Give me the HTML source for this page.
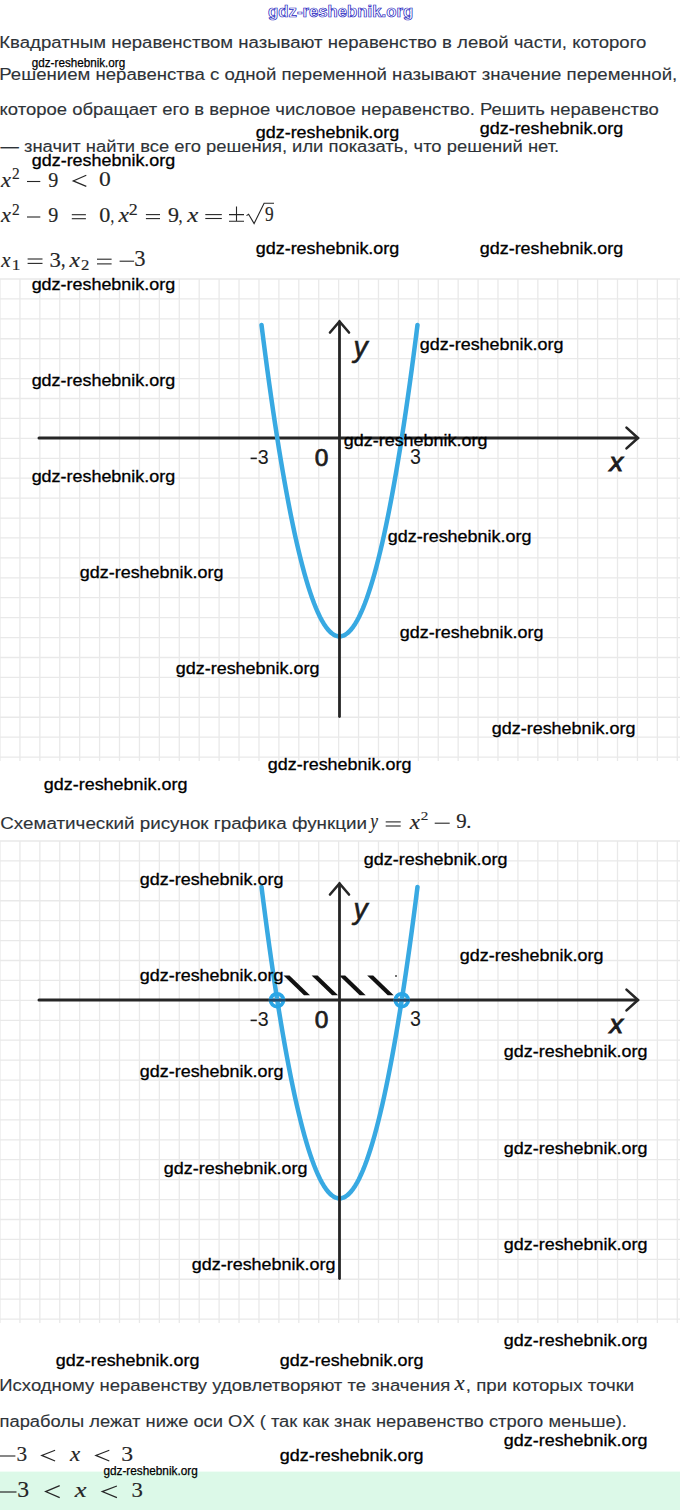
<!DOCTYPE html><html><head><meta charset="utf-8"><style>html,body{margin:0;padding:0;background:#fff;width:680px;height:1510px;overflow:hidden}svg{display:block}</style></head><body><svg width="680" height="1510" viewBox="0 0 680 1510"><rect x="0" y="1471.6" width="680" height="40" fill="#dcf9e8"/><g stroke="#e9e9e9" stroke-width="1.3"><line x1="0.00" y1="279" x2="0.00" y2="761"/><line x1="19.92" y1="279" x2="19.92" y2="761"/><line x1="39.84" y1="279" x2="39.84" y2="761"/><line x1="59.76" y1="279" x2="59.76" y2="761"/><line x1="79.68" y1="279" x2="79.68" y2="761"/><line x1="99.60" y1="279" x2="99.60" y2="761"/><line x1="119.52" y1="279" x2="119.52" y2="761"/><line x1="139.44" y1="279" x2="139.44" y2="761"/><line x1="159.36" y1="279" x2="159.36" y2="761"/><line x1="179.28" y1="279" x2="179.28" y2="761"/><line x1="199.20" y1="279" x2="199.20" y2="761"/><line x1="219.12" y1="279" x2="219.12" y2="761"/><line x1="239.04" y1="279" x2="239.04" y2="761"/><line x1="258.96" y1="279" x2="258.96" y2="761"/><line x1="278.88" y1="279" x2="278.88" y2="761"/><line x1="298.80" y1="279" x2="298.80" y2="761"/><line x1="318.72" y1="279" x2="318.72" y2="761"/><line x1="338.64" y1="279" x2="338.64" y2="761"/><line x1="358.56" y1="279" x2="358.56" y2="761"/><line x1="378.48" y1="279" x2="378.48" y2="761"/><line x1="398.40" y1="279" x2="398.40" y2="761"/><line x1="418.32" y1="279" x2="418.32" y2="761"/><line x1="438.24" y1="279" x2="438.24" y2="761"/><line x1="458.16" y1="279" x2="458.16" y2="761"/><line x1="478.08" y1="279" x2="478.08" y2="761"/><line x1="498.00" y1="279" x2="498.00" y2="761"/><line x1="517.92" y1="279" x2="517.92" y2="761"/><line x1="537.84" y1="279" x2="537.84" y2="761"/><line x1="557.76" y1="279" x2="557.76" y2="761"/><line x1="577.68" y1="279" x2="577.68" y2="761"/><line x1="597.60" y1="279" x2="597.60" y2="761"/><line x1="617.52" y1="279" x2="617.52" y2="761"/><line x1="637.44" y1="279" x2="637.44" y2="761"/><line x1="657.36" y1="279" x2="657.36" y2="761"/><line x1="677.28" y1="279" x2="677.28" y2="761"/><line x1="0" y1="279.00" x2="680" y2="279.00"/><line x1="0" y1="298.92" x2="680" y2="298.92"/><line x1="0" y1="318.84" x2="680" y2="318.84"/><line x1="0" y1="338.76" x2="680" y2="338.76"/><line x1="0" y1="358.68" x2="680" y2="358.68"/><line x1="0" y1="378.60" x2="680" y2="378.60"/><line x1="0" y1="398.52" x2="680" y2="398.52"/><line x1="0" y1="418.44" x2="680" y2="418.44"/><line x1="0" y1="438.36" x2="680" y2="438.36"/><line x1="0" y1="458.28" x2="680" y2="458.28"/><line x1="0" y1="478.20" x2="680" y2="478.20"/><line x1="0" y1="498.12" x2="680" y2="498.12"/><line x1="0" y1="518.04" x2="680" y2="518.04"/><line x1="0" y1="537.96" x2="680" y2="537.96"/><line x1="0" y1="557.88" x2="680" y2="557.88"/><line x1="0" y1="577.80" x2="680" y2="577.80"/><line x1="0" y1="597.72" x2="680" y2="597.72"/><line x1="0" y1="617.64" x2="680" y2="617.64"/><line x1="0" y1="637.56" x2="680" y2="637.56"/><line x1="0" y1="657.48" x2="680" y2="657.48"/><line x1="0" y1="677.40" x2="680" y2="677.40"/><line x1="0" y1="697.32" x2="680" y2="697.32"/><line x1="0" y1="717.24" x2="680" y2="717.24"/><line x1="0" y1="737.16" x2="680" y2="737.16"/><line x1="0" y1="757.08" x2="680" y2="757.08"/></g><g stroke="#262626" stroke-width="3" stroke-linecap="round" fill="none"><line x1="39" y1="438" x2="637.5" y2="438"/><polyline stroke-width="2.6" points="626.5,427.6 638,438 626.5,448.4"/></g><polyline points="261.50,324.90 263.45,340.28 265.40,355.27 267.35,369.87 269.30,384.08 271.25,397.91 273.20,411.34 275.15,424.38 277.10,437.04 279.05,449.30 281.00,461.18 282.95,472.67 284.90,483.76 286.85,494.47 288.80,504.79 290.75,514.72 292.70,524.26 294.65,533.41 296.60,542.17 298.55,550.54 300.50,558.52 302.45,566.12 304.40,573.32 306.35,580.14 308.30,586.56 310.25,592.60 312.20,598.24 314.15,603.50 316.10,608.36 318.05,612.84 320.00,616.93 321.95,620.63 323.90,623.94 325.85,626.86 327.80,629.39 329.75,631.53 331.70,633.28 333.65,634.65 335.60,635.62 337.55,636.21 339.50,636.40 341.45,636.21 343.40,635.62 345.35,634.65 347.30,633.28 349.25,631.53 351.20,629.39 353.15,626.86 355.10,623.94 357.05,620.63 359.00,616.93 360.95,612.84 362.90,608.36 364.85,603.50 366.80,598.24 368.75,592.60 370.70,586.56 372.65,580.14 374.60,573.32 376.55,566.12 378.50,558.52 380.45,550.54 382.40,542.17 384.35,533.41 386.30,524.26 388.25,514.72 390.20,504.79 392.15,494.47 394.10,483.76 396.05,472.67 398.00,461.18 399.95,449.30 401.90,437.04 403.85,424.38 405.80,411.34 407.75,397.91 409.70,384.08 411.65,369.87 413.60,355.27 415.55,340.28 417.50,324.90" fill="none" stroke="#38a9e2" stroke-width="4.5" stroke-linecap="round" stroke-linejoin="round"/><g stroke="#262626" stroke-width="2.8" stroke-linecap="round" fill="none"><line x1="339.5" y1="322" x2="339.5" y2="716.5"/><polyline stroke-width="2.6" points="330,332.5 339.5,321.5 349,332.5"/></g><text transform="matrix(0.97452 0 0 1.00008 353.405 356.965)" font-size="29.08" font-family="Liberation Sans" font-style="italic" fill="#1c1c1c" stroke="#1c1c1c" stroke-width="0.6">y</text><text transform="matrix(1.05768 0 0 1.00008 609.590 470.600)" font-size="25.74" font-family="Liberation Sans" font-style="italic" fill="#1c1c1c" stroke="#1c1c1c" stroke-width="0.9">x</text><rect x="250.6" y="457.6" width="6.2" height="1.6" fill="#1c1c1c"/><text transform="matrix(0.94486 0 0 1.00012 257.653 463.797)" font-size="20.76" font-family="Liberation Sans" fill="#1c1c1c">3</text><text transform="matrix(1.05680 0 0 1.00015 314.844 465.974)" font-size="23.16" font-family="Liberation Sans" fill="#1c1c1c" stroke="#1c1c1c" stroke-width="0.7">0</text><text transform="matrix(0.92568 0 0 0.99982 410.053 463.793)" font-size="21.19" font-family="Liberation Sans" fill="#1c1c1c">3</text><g stroke="#e9e9e9" stroke-width="1.3"><line x1="0.00" y1="841" x2="0.00" y2="1323"/><line x1="19.92" y1="841" x2="19.92" y2="1323"/><line x1="39.84" y1="841" x2="39.84" y2="1323"/><line x1="59.76" y1="841" x2="59.76" y2="1323"/><line x1="79.68" y1="841" x2="79.68" y2="1323"/><line x1="99.60" y1="841" x2="99.60" y2="1323"/><line x1="119.52" y1="841" x2="119.52" y2="1323"/><line x1="139.44" y1="841" x2="139.44" y2="1323"/><line x1="159.36" y1="841" x2="159.36" y2="1323"/><line x1="179.28" y1="841" x2="179.28" y2="1323"/><line x1="199.20" y1="841" x2="199.20" y2="1323"/><line x1="219.12" y1="841" x2="219.12" y2="1323"/><line x1="239.04" y1="841" x2="239.04" y2="1323"/><line x1="258.96" y1="841" x2="258.96" y2="1323"/><line x1="278.88" y1="841" x2="278.88" y2="1323"/><line x1="298.80" y1="841" x2="298.80" y2="1323"/><line x1="318.72" y1="841" x2="318.72" y2="1323"/><line x1="338.64" y1="841" x2="338.64" y2="1323"/><line x1="358.56" y1="841" x2="358.56" y2="1323"/><line x1="378.48" y1="841" x2="378.48" y2="1323"/><line x1="398.40" y1="841" x2="398.40" y2="1323"/><line x1="418.32" y1="841" x2="418.32" y2="1323"/><line x1="438.24" y1="841" x2="438.24" y2="1323"/><line x1="458.16" y1="841" x2="458.16" y2="1323"/><line x1="478.08" y1="841" x2="478.08" y2="1323"/><line x1="498.00" y1="841" x2="498.00" y2="1323"/><line x1="517.92" y1="841" x2="517.92" y2="1323"/><line x1="537.84" y1="841" x2="537.84" y2="1323"/><line x1="557.76" y1="841" x2="557.76" y2="1323"/><line x1="577.68" y1="841" x2="577.68" y2="1323"/><line x1="597.60" y1="841" x2="597.60" y2="1323"/><line x1="617.52" y1="841" x2="617.52" y2="1323"/><line x1="637.44" y1="841" x2="637.44" y2="1323"/><line x1="657.36" y1="841" x2="657.36" y2="1323"/><line x1="677.28" y1="841" x2="677.28" y2="1323"/><line x1="0" y1="841.00" x2="680" y2="841.00"/><line x1="0" y1="860.92" x2="680" y2="860.92"/><line x1="0" y1="880.84" x2="680" y2="880.84"/><line x1="0" y1="900.76" x2="680" y2="900.76"/><line x1="0" y1="920.68" x2="680" y2="920.68"/><line x1="0" y1="940.60" x2="680" y2="940.60"/><line x1="0" y1="960.52" x2="680" y2="960.52"/><line x1="0" y1="980.44" x2="680" y2="980.44"/><line x1="0" y1="1000.36" x2="680" y2="1000.36"/><line x1="0" y1="1020.28" x2="680" y2="1020.28"/><line x1="0" y1="1040.20" x2="680" y2="1040.20"/><line x1="0" y1="1060.12" x2="680" y2="1060.12"/><line x1="0" y1="1080.04" x2="680" y2="1080.04"/><line x1="0" y1="1099.96" x2="680" y2="1099.96"/><line x1="0" y1="1119.88" x2="680" y2="1119.88"/><line x1="0" y1="1139.80" x2="680" y2="1139.80"/><line x1="0" y1="1159.72" x2="680" y2="1159.72"/><line x1="0" y1="1179.64" x2="680" y2="1179.64"/><line x1="0" y1="1199.56" x2="680" y2="1199.56"/><line x1="0" y1="1219.48" x2="680" y2="1219.48"/><line x1="0" y1="1239.40" x2="680" y2="1239.40"/><line x1="0" y1="1259.32" x2="680" y2="1259.32"/><line x1="0" y1="1279.24" x2="680" y2="1279.24"/><line x1="0" y1="1299.16" x2="680" y2="1299.16"/><line x1="0" y1="1319.08" x2="680" y2="1319.08"/></g><g stroke="#262626" stroke-width="3" stroke-linecap="round" fill="none"><line x1="39" y1="1000" x2="637.5" y2="1000"/><polyline stroke-width="2.6" points="626.5,989.6 638,1000 626.5,1010.4"/></g><polygon fill="#111" points="283.5,975.6 289.5,975.6 310.0,995.2 304.0,995.2"/><polygon fill="#111" points="311.6,975.6 317.6,975.6 338.1,995.2 332.1,995.2"/><polygon fill="#111" points="339.2,975.6 345.2,975.6 365.7,995.2 359.7,995.2"/><polygon fill="#111" points="367.2,975.6 373.2,975.6 393.7,995.2 387.7,995.2"/><circle cx="396" cy="976" r="1" fill="#444"/><polyline points="261.50,886.90 263.45,902.28 265.40,917.27 267.35,931.87 269.30,946.08 271.25,959.91 273.20,973.34 275.15,986.38 277.10,999.04 279.05,1011.30 281.00,1023.18 282.95,1034.67 284.90,1045.76 286.85,1056.47 288.80,1066.79 290.75,1076.72 292.70,1086.26 294.65,1095.41 296.60,1104.17 298.55,1112.54 300.50,1120.52 302.45,1128.12 304.40,1135.32 306.35,1142.14 308.30,1148.56 310.25,1154.60 312.20,1160.24 314.15,1165.50 316.10,1170.36 318.05,1174.84 320.00,1178.93 321.95,1182.63 323.90,1185.94 325.85,1188.86 327.80,1191.39 329.75,1193.53 331.70,1195.28 333.65,1196.65 335.60,1197.62 337.55,1198.21 339.50,1198.40 341.45,1198.21 343.40,1197.62 345.35,1196.65 347.30,1195.28 349.25,1193.53 351.20,1191.39 353.15,1188.86 355.10,1185.94 357.05,1182.63 359.00,1178.93 360.95,1174.84 362.90,1170.36 364.85,1165.50 366.80,1160.24 368.75,1154.60 370.70,1148.56 372.65,1142.14 374.60,1135.32 376.55,1128.12 378.50,1120.52 380.45,1112.54 382.40,1104.17 384.35,1095.41 386.30,1086.26 388.25,1076.72 390.20,1066.79 392.15,1056.47 394.10,1045.76 396.05,1034.67 398.00,1023.18 399.95,1011.30 401.90,999.04 403.85,986.38 405.80,973.34 407.75,959.91 409.70,946.08 411.65,931.87 413.60,917.27 415.55,902.28 417.50,886.90" fill="none" stroke="#38a9e2" stroke-width="4.5" stroke-linecap="round" stroke-linejoin="round"/><g stroke="#262626" stroke-width="2.8" stroke-linecap="round" fill="none"><line x1="339.5" y1="884" x2="339.5" y2="1278.5"/><polyline stroke-width="2.6" points="330,894.5 339.5,883.5 349,894.5"/></g><circle cx="277" cy="1000.2" r="6.4" fill="none" stroke="#2aa6e6" stroke-width="3.8"/><line x1="269" y1="1000.2" x2="285" y2="1000.2" stroke="#1d4a6e" stroke-width="2.6"/><circle cx="401.8" cy="1000.2" r="6.4" fill="none" stroke="#2aa6e6" stroke-width="3.8"/><line x1="393.8" y1="1000.2" x2="409.8" y2="1000.2" stroke="#1d4a6e" stroke-width="2.6"/><text transform="matrix(0.97452 0 0 1.00008 353.405 918.965)" font-size="29.08" font-family="Liberation Sans" font-style="italic" fill="#1c1c1c" stroke="#1c1c1c" stroke-width="0.6">y</text><text transform="matrix(1.05768 0 0 1.00008 609.590 1032.600)" font-size="25.74" font-family="Liberation Sans" font-style="italic" fill="#1c1c1c" stroke="#1c1c1c" stroke-width="0.9">x</text><rect x="250.6" y="1019.6" width="6.2" height="1.6" fill="#1c1c1c"/><text transform="matrix(0.94486 0 0 1.00012 257.653 1025.797)" font-size="20.76" font-family="Liberation Sans" fill="#1c1c1c">3</text><text transform="matrix(1.05680 0 0 1.00015 314.844 1027.974)" font-size="23.16" font-family="Liberation Sans" fill="#1c1c1c" stroke="#1c1c1c" stroke-width="0.7">0</text><text transform="matrix(0.92568 0 0 0.99982 410.053 1025.793)" font-size="21.19" font-family="Liberation Sans" fill="#1c1c1c">3</text><g fill="#2e3338" stroke="#2e3338" stroke-width="0.12"><text x="-0.72" y="48.4" font-size="16" textLength="647.09" lengthAdjust="spacingAndGlyphs" font-family="Liberation Sans">Квадратным неравенством называют неравенство в левой части, которого</text><text x="-0.72" y="79.6" font-size="16" textLength="677.98" lengthAdjust="spacingAndGlyphs" font-family="Liberation Sans">Решением неравенства с одной переменной называют значение переменной,</text><text x="-0.44" y="115.3" font-size="16" textLength="659.21" lengthAdjust="spacingAndGlyphs" font-family="Liberation Sans">которое обращает его в верное числовое неравенство. Решить неравенство</text><text x="0.50" y="151.8" font-size="16" textLength="558.67" lengthAdjust="spacingAndGlyphs" font-family="Liberation Sans">— значит найти все его решения, или показать, что решений нет.</text><text x="0.25" y="828.7" font-size="16" textLength="366.76" lengthAdjust="spacingAndGlyphs" font-family="Liberation Sans">Схематический рисунок графика функции</text><text x="-0.70" y="1390.9" font-size="16" textLength="450.98" lengthAdjust="spacingAndGlyphs" font-family="Liberation Sans">Исходному неравенству удовлетворяют те значения</text><text x="465.83" y="1390.9" font-size="16" textLength="168.45" lengthAdjust="spacingAndGlyphs" font-family="Liberation Sans">, при которых точки</text><text x="-0.47" y="1426.8" font-size="16" textLength="627.44" lengthAdjust="spacingAndGlyphs" font-family="Liberation Sans">параболы лежат ниже оси OX ( так как знак неравенство строго меньше).</text></g><g fill="#262626" stroke="#262626" stroke-width="0.15"><text transform="matrix(1.04348 0 0 0.99997 0.975 186.700)" font-size="21.57" font-family="Liberation Serif" font-style="italic">x</text><text transform="matrix(0.98447 0 0 0.99983 12.120 178.800)" font-size="15.71" font-family="Liberation Serif">2</text><line x1="27.0" y1="181.5" x2="40.3" y2="181.5" stroke="#262626" stroke-width="1.1"/><text transform="matrix(0.95371 0 0 1.00023 48.151 186.594)" font-size="21.13" font-family="Liberation Serif">9</text><polyline points="86.3,175.3 73.2,180.9 86.3,186.4" fill="none" stroke="#262626" stroke-width="1.15" stroke-linejoin="miter"/><text transform="matrix(1.08331 0 0 1.00019 99.001 186.287)" font-size="21.78" font-family="Liberation Serif">0</text><text transform="matrix(1.09902 0 0 1.00000 0.975 222.400)" font-size="20.48" font-family="Liberation Serif" font-style="italic">x</text><text transform="matrix(0.97516 0 0 0.99990 12.120 214.600)" font-size="15.86" font-family="Liberation Serif">2</text><line x1="27.0" y1="217.0" x2="40.3" y2="217.0" stroke="#262626" stroke-width="1.1"/><text transform="matrix(0.95371 0 0 1.00023 48.151 221.994)" font-size="21.13" font-family="Liberation Serif">9</text><line x1="71.8" y1="214.7" x2="85.9" y2="214.7" stroke="#262626" stroke-width="1.1"/><line x1="71.8" y1="218.7" x2="85.9" y2="218.7" stroke="#262626" stroke-width="1.1"/><text transform="matrix(1.10068 0 0 1.00020 99.155 222.203)" font-size="20.15" font-family="Liberation Serif">0</text><text transform="matrix(0.68998 0 0 1.00021 110.437 221.706)" font-size="21.41" font-family="Liberation Serif">,</text><text transform="matrix(1.15343 0 0 1.00000 118.488 222.400)" font-size="20.48" font-family="Liberation Serif" font-style="italic">x</text><text transform="matrix(1.12183 0 0 0.99996 128.811 214.700)" font-size="16.01" font-family="Liberation Serif">2</text><line x1="145.9" y1="214.6" x2="160.0" y2="214.6" stroke="#262626" stroke-width="1.1"/><line x1="145.9" y1="218.6" x2="160.0" y2="218.6" stroke="#262626" stroke-width="1.1"/><text transform="matrix(1.04938 0 0 0.99981 168.090 221.895)" font-size="20.99" font-family="Liberation Serif">9</text><text transform="matrix(0.75270 0 0 1.00021 178.586 221.706)" font-size="21.41" font-family="Liberation Serif">,</text><text transform="matrix(1.23195 0 0 1.00011 187.305 222.200)" font-size="20.26" font-family="Liberation Serif" font-style="italic">x</text><line x1="205.3" y1="214.6" x2="221.8" y2="214.6" stroke="#262626" stroke-width="1.1"/><line x1="205.3" y1="218.5" x2="221.8" y2="218.5" stroke="#262626" stroke-width="1.1"/><path d="M229,214.6 H244 M236.5,206.6 V221.3 M229,221.3 H244" stroke="#262626" stroke-width="1.1" fill="none"/><path d="M246.5,215.6 L248.6,214.2 L254.1,223.6 L264.1,203.2 L274,203.2" stroke="#262626" stroke-width="1.1" fill="none"/><text transform="matrix(0.86312 0 0 1.00015 265.041 221.104)" font-size="20.09" font-family="Liberation Serif">9</text><text transform="matrix(1.03396 0 0 1.00011 1.356 266.700)" font-size="20.26" font-family="Liberation Serif" font-style="italic">x</text><text transform="matrix(1.15514 0 0 0.99976 11.677 269.500)" font-size="15.0" font-family="Liberation Serif">1</text><line x1="27.6" y1="259.0" x2="42.5" y2="259.0" stroke="#262626" stroke-width="1.1"/><line x1="27.6" y1="263.4" x2="42.5" y2="263.4" stroke="#262626" stroke-width="1.1"/><text transform="matrix(1.06934 0 0 1.00017 49.611 267.092)" font-size="21.28" font-family="Liberation Serif">3</text><text transform="matrix(0.77611 0 0 1.00005 60.910 265.907)" font-size="23.36" font-family="Liberation Serif">,</text><text transform="matrix(1.17875 0 0 1.00021 69.588 266.500)" font-size="20.04" font-family="Liberation Serif" font-style="italic">x</text><text transform="matrix(1.20326 0 0 1.00036 81.066 269.800)" font-size="13.89" font-family="Liberation Serif">2</text><line x1="97.0" y1="259.2" x2="111.6" y2="259.2" stroke="#262626" stroke-width="1.1"/><line x1="97.0" y1="263.9" x2="111.6" y2="263.9" stroke="#262626" stroke-width="1.1"/><line x1="119.6" y1="261.2" x2="134.1" y2="261.2" stroke="#262626" stroke-width="1.1"/><text transform="matrix(0.99529 0 0 1.00014 134.323 266.279)" font-size="22.62" font-family="Liberation Serif">3</text><text transform="matrix(0.84611 0 0 0.99993 370.255 828.254)" font-size="20.6" font-family="Liberation Serif" font-style="italic">y</text><line x1="385.7" y1="821.9" x2="400.7" y2="821.9" stroke="#262626" stroke-width="1.1"/><line x1="385.7" y1="826.0" x2="400.7" y2="826.0" stroke="#262626" stroke-width="1.1"/><text transform="matrix(1.13295 0 0 1.00011 409.680 828.600)" font-size="20.26" font-family="Liberation Serif" font-style="italic">x</text><text transform="matrix(1.14496 0 0 1.00006 420.631 820.400)" font-size="13.29" font-family="Liberation Serif">2</text><line x1="434.7" y1="823.2" x2="449.7" y2="823.2" stroke="#262626" stroke-width="1.1"/><text transform="matrix(0.99356 0 0 0.99981 456.328 828.395)" font-size="20.99" font-family="Liberation Serif">9</text><text transform="matrix(1.04372 0 0 1.00023 466.161 828.324)" font-size="19.46" font-family="Liberation Serif">.</text><text transform="matrix(1.13295 0 0 1.00011 454.380 1390.300)" font-size="20.26" font-family="Liberation Serif" font-style="italic">x</text><line x1="0" y1="1456.0" x2="15.4" y2="1456.0" stroke="#262626" stroke-width="1.1"/><text transform="matrix(0.99408 0 0 1.00012 16.481 1461.391)" font-size="21.43" font-family="Liberation Serif">3</text><polyline points="55.1,1450.3 41.7,1455.4 55.1,1461.0" fill="none" stroke="#262626" stroke-width="1.15" stroke-linejoin="miter"/><text transform="matrix(1.10887 0 0 0.99990 69.880 1461.300)" font-size="20.7" font-family="Liberation Serif" font-style="italic">x</text><polyline points="109.3,1450.3 95.8,1455.4 109.3,1461.0" fill="none" stroke="#262626" stroke-width="1.15" stroke-linejoin="miter"/><text transform="matrix(1.10704 0 0 1.00012 121.365 1461.391)" font-size="21.43" font-family="Liberation Serif">3</text><line x1="0" y1="1492.0" x2="16.5" y2="1492.0" stroke="#262626" stroke-width="1.2"/><text transform="matrix(1.04880 0 0 1.00014 17.365 1497.379)" font-size="22.62" font-family="Liberation Serif">3</text><polyline points="59.7,1485.6 45.6,1491.6 59.7,1497.6" fill="none" stroke="#262626" stroke-width="1.2" stroke-linejoin="miter"/><text transform="matrix(1.29489 0 0 1.00000 74.724 1497.300)" font-size="20.48" font-family="Liberation Serif" font-style="italic">x</text><polyline points="116.9,1486.0 102.2,1491.6 116.9,1497.6" fill="none" stroke="#262626" stroke-width="1.2" stroke-linejoin="miter"/><text transform="matrix(1.06186 0 0 1.00012 131.411 1497.091)" font-size="21.43" font-family="Liberation Serif">3</text></g><g fill="#000" stroke="#000" stroke-width="0.3"><text x="255.75" y="137.7" font-size="16.6" textLength="143.51" lengthAdjust="spacingAndGlyphs" font-family="Liberation Sans">gdz-reshebnik.org</text><text x="479.75" y="133.8" font-size="16.6" textLength="143.51" lengthAdjust="spacingAndGlyphs" font-family="Liberation Sans">gdz-reshebnik.org</text><text x="31.75" y="165.6" font-size="16.6" textLength="143.51" lengthAdjust="spacingAndGlyphs" font-family="Liberation Sans">gdz-reshebnik.org</text><text x="255.75" y="253.8" font-size="16.6" textLength="143.51" lengthAdjust="spacingAndGlyphs" font-family="Liberation Sans">gdz-reshebnik.org</text><text x="479.75" y="253.8" font-size="16.6" textLength="143.51" lengthAdjust="spacingAndGlyphs" font-family="Liberation Sans">gdz-reshebnik.org</text><text x="31.65" y="289.5" font-size="16.6" textLength="143.51" lengthAdjust="spacingAndGlyphs" font-family="Liberation Sans">gdz-reshebnik.org</text><text x="419.85" y="349.5" font-size="16.6" textLength="143.51" lengthAdjust="spacingAndGlyphs" font-family="Liberation Sans">gdz-reshebnik.org</text><text x="31.65" y="385.5" font-size="16.6" textLength="143.51" lengthAdjust="spacingAndGlyphs" font-family="Liberation Sans">gdz-reshebnik.org</text><text x="343.85" y="445.6" font-size="16.6" textLength="143.51" lengthAdjust="spacingAndGlyphs" font-family="Liberation Sans">gdz-reshebnik.org</text><text x="31.65" y="481.5" font-size="16.6" textLength="143.51" lengthAdjust="spacingAndGlyphs" font-family="Liberation Sans">gdz-reshebnik.org</text><text x="387.85" y="541.5" font-size="16.6" textLength="143.51" lengthAdjust="spacingAndGlyphs" font-family="Liberation Sans">gdz-reshebnik.org</text><text x="79.85" y="577.5" font-size="16.6" textLength="143.51" lengthAdjust="spacingAndGlyphs" font-family="Liberation Sans">gdz-reshebnik.org</text><text x="399.85" y="637.5" font-size="16.6" textLength="143.51" lengthAdjust="spacingAndGlyphs" font-family="Liberation Sans">gdz-reshebnik.org</text><text x="175.85" y="673.5" font-size="16.6" textLength="143.51" lengthAdjust="spacingAndGlyphs" font-family="Liberation Sans">gdz-reshebnik.org</text><text x="491.85" y="733.5" font-size="16.6" textLength="143.51" lengthAdjust="spacingAndGlyphs" font-family="Liberation Sans">gdz-reshebnik.org</text><text x="267.85" y="769.6" font-size="16.6" textLength="143.51" lengthAdjust="spacingAndGlyphs" font-family="Liberation Sans">gdz-reshebnik.org</text><text x="43.85" y="789.6" font-size="16.6" textLength="143.51" lengthAdjust="spacingAndGlyphs" font-family="Liberation Sans">gdz-reshebnik.org</text><text x="363.85" y="865.2" font-size="16.6" textLength="143.51" lengthAdjust="spacingAndGlyphs" font-family="Liberation Sans">gdz-reshebnik.org</text><text x="139.85" y="885.2" font-size="16.6" textLength="143.51" lengthAdjust="spacingAndGlyphs" font-family="Liberation Sans">gdz-reshebnik.org</text><text x="459.85" y="961.3" font-size="16.6" textLength="143.51" lengthAdjust="spacingAndGlyphs" font-family="Liberation Sans">gdz-reshebnik.org</text><text x="139.85" y="981.3" font-size="16.6" textLength="143.51" lengthAdjust="spacingAndGlyphs" font-family="Liberation Sans">gdz-reshebnik.org</text><text x="503.85" y="1057.4" font-size="16.6" textLength="143.51" lengthAdjust="spacingAndGlyphs" font-family="Liberation Sans">gdz-reshebnik.org</text><text x="139.85" y="1077.4" font-size="16.6" textLength="143.51" lengthAdjust="spacingAndGlyphs" font-family="Liberation Sans">gdz-reshebnik.org</text><text x="503.85" y="1153.5" font-size="16.6" textLength="143.51" lengthAdjust="spacingAndGlyphs" font-family="Liberation Sans">gdz-reshebnik.org</text><text x="163.85" y="1173.5" font-size="16.6" textLength="143.51" lengthAdjust="spacingAndGlyphs" font-family="Liberation Sans">gdz-reshebnik.org</text><text x="503.85" y="1249.5" font-size="16.6" textLength="143.51" lengthAdjust="spacingAndGlyphs" font-family="Liberation Sans">gdz-reshebnik.org</text><text x="191.85" y="1269.6" font-size="16.6" textLength="143.51" lengthAdjust="spacingAndGlyphs" font-family="Liberation Sans">gdz-reshebnik.org</text><text x="503.85" y="1345.6" font-size="16.6" textLength="143.51" lengthAdjust="spacingAndGlyphs" font-family="Liberation Sans">gdz-reshebnik.org</text><text x="55.85" y="1365.6" font-size="16.6" textLength="143.51" lengthAdjust="spacingAndGlyphs" font-family="Liberation Sans">gdz-reshebnik.org</text><text x="279.85" y="1365.6" font-size="16.6" textLength="143.51" lengthAdjust="spacingAndGlyphs" font-family="Liberation Sans">gdz-reshebnik.org</text><text x="503.85" y="1445.6" font-size="16.6" textLength="143.51" lengthAdjust="spacingAndGlyphs" font-family="Liberation Sans">gdz-reshebnik.org</text><text x="279.85" y="1461.2" font-size="16.6" textLength="143.51" lengthAdjust="spacingAndGlyphs" font-family="Liberation Sans">gdz-reshebnik.org</text><text x="31.81" y="67" font-size="12.5" textLength="93.44" lengthAdjust="spacingAndGlyphs" font-family="Liberation Sans" stroke-width="0.25">gdz-reshebnik.org</text><text x="103.41" y="1474.7" font-size="12.5" textLength="94.35" lengthAdjust="spacingAndGlyphs" font-family="Liberation Sans" stroke-width="0.25">gdz-reshebnik.org</text></g><text x="268.11" y="16.5" font-size="16" textLength="145.01" lengthAdjust="spacingAndGlyphs" font-family="Liberation Sans" font-weight="bold" fill="#fff" stroke="#2424c0" stroke-width="0.7">gdz-reshebnik.org</text></svg></body></html>
